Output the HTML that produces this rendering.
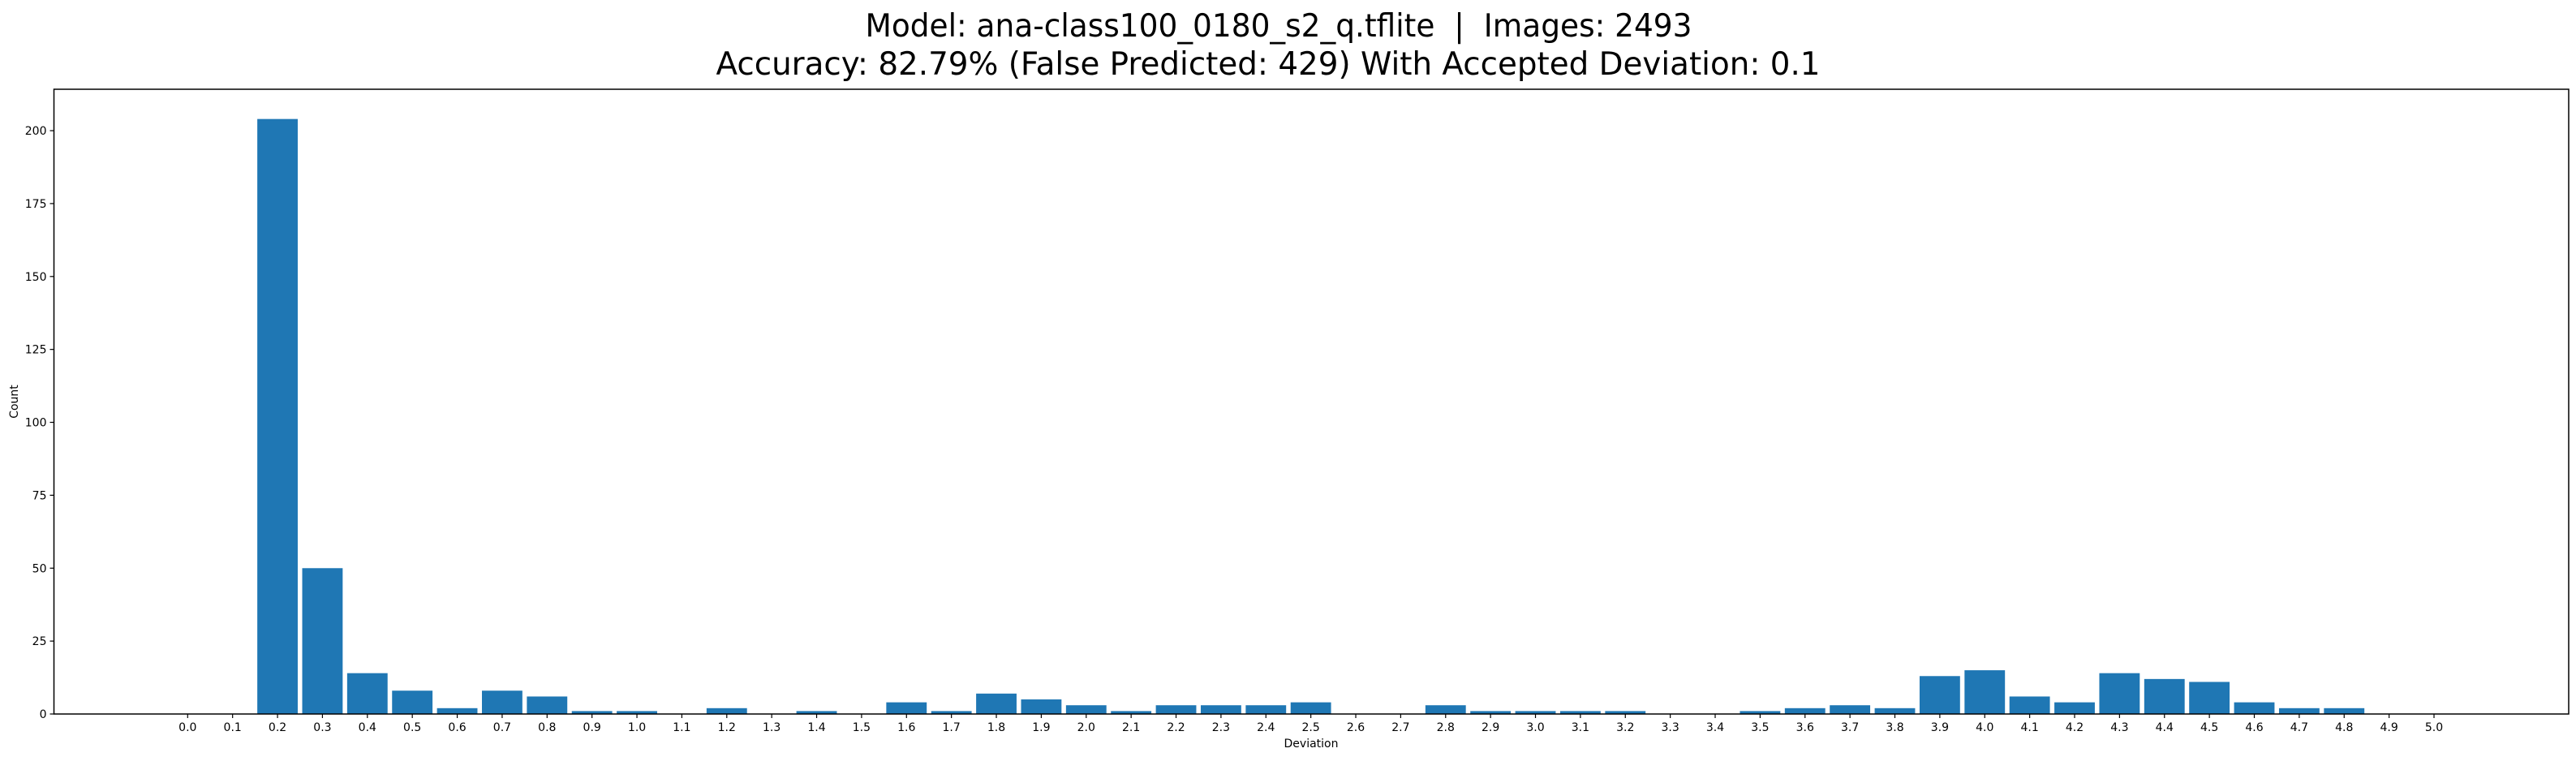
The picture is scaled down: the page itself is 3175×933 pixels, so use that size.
<!DOCTYPE html>
<html><head><meta charset="utf-8"><style>
html,body{margin:0;padding:0;background:#fff}
svg{display:block;font-family:"DejaVu Sans","Liberation Sans",sans-serif}
</style></head><body>
<svg id="chart" width="3175" height="933" viewBox="0 0 3175 933" xmlns="http://www.w3.org/2000/svg">
<text xml:space="preserve" style="white-space:pre" x="1576" y="45" text-anchor="middle" font-size="39" textLength="1019" lengthAdjust="spacingAndGlyphs">Model: ana-class100_0180_s2_q.tflite  |  Images: 2493</text>
<text x="1563" y="92" text-anchor="middle" font-size="39" textLength="1361" lengthAdjust="spacingAndGlyphs">Accuracy: 82.79% (False Predicted: 429) With Accepted Deviation: 0.1</text>
<g id="plot"></g>
<text transform="translate(22,495) rotate(-90)" text-anchor="middle" font-size="14">Count</text>
<text x="1616" y="921" text-anchor="middle" font-size="14">Deviation</text>
</svg>
<script>
const categories = ["0.0","0.1","0.2","0.3","0.4","0.5","0.6","0.7","0.8","0.9","1.0","1.1","1.2","1.3","1.4","1.5","1.6","1.7","1.8","1.9","2.0","2.1","2.2","2.3","2.4","2.5","2.6","2.7","2.8","2.9","3.0","3.1","3.2","3.3","3.4","3.5","3.6","3.7","3.8","3.9","4.0","4.1","4.2","4.3","4.4","4.5","4.6","4.7","4.8","4.9","5.0"];
const counts = [0,0,204,50,14,8,2,8,6,1,1,0,2,0,1,0,4,1,7,5,3,1,3,3,3,4,0,0,3,1,1,1,1,0,0,1,2,3,2,13,15,6,4,14,12,11,4,2,2,0,0];
const yTicks = [0,25,50,75,100,125,150,175,200];

const NS="http://www.w3.org/2000/svg";
const L=66.5,R=3166,T=110,B=880;
const x0=231.3, step=(3000-231.3)/(categories.length-1);
const yMax=Math.max(...counts)*1.05;
function xs(i){return x0+i*step;}
function ys(v){return B-(v/yMax)*(B-T);}
const g=document.getElementById('plot');
function mk(tag,attrs){const e=document.createElementNS(NS,tag);for(const k in attrs)e.setAttribute(k,attrs[k]);g.appendChild(e);return e;}
const bw=step*0.9;
counts.forEach((v,i)=>{
  if(v<=0)return;
  const r=mk('rect',{x:xs(i)-bw/2,y:ys(v),width:bw,height:B-ys(v),fill:'#1f77b4'});
  
  
});
categories.forEach((c,i)=>{
  const t=mk('line',{x1:xs(i),x2:xs(i),y1:B,y2:B+5,stroke:'#000','stroke-width':1.2});
  
  
  const l=mk('text',{x:xs(i),y:B+21,'text-anchor':'middle','font-size':14,fill:'#000'});
  l.textContent=c;
  
  
});
yTicks.forEach(v=>{
  const t=mk('line',{x1:L-5,x2:L,y1:ys(v),y2:ys(v),stroke:'#000','stroke-width':1.2});
  
  
  const l=mk('text',{x:L-9,y:ys(v)+5,'text-anchor':'end','font-size':14,fill:'#000'});
  l.textContent=v;
  
  
});
const fr=mk('rect',{x:L,y:T,width:R-L,height:B-T,fill:'none',stroke:'#000','stroke-width':1.5});


</script>
</body></html>
